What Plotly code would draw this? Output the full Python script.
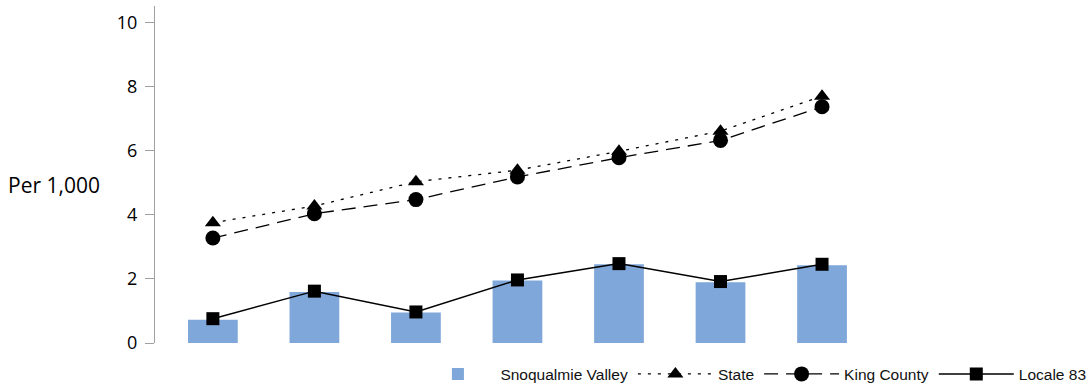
import plotly.graph_objects as go

categories = ["2010", "2011", "2012", "2013", "2014", "2015", "2016"]
snoqualmie_valley = [0.73, 1.59, 0.95, 1.95, 2.46, 1.90, 2.43]
state = [3.76, 4.28, 5.04, 5.40, 5.99, 6.62, 7.71]
king_county = [3.28, 4.04, 4.48, 5.19, 5.79, 6.33, 7.38]
locale_83 = [0.76, 1.62, 0.97, 1.97, 2.48, 1.92, 2.46]
y_ticks = [0, 2, 4, 6, 8, 10]

xs = list(range(len(categories)))

fig = go.Figure()
fig.add_trace(go.Bar(x=xs, y=snoqualmie_valley, name="Snoqualmie Valley",
                     marker=dict(color="#7FA7D9", line=dict(width=0)), width=0.49))
fig.add_trace(go.Scatter(x=xs, y=state, name="State", mode="lines+markers",
                         line=dict(color="black", width=1.3, dash="3px,7px"),
                         marker=dict(symbol="triangle-up", size=14, color="black")))
fig.add_trace(go.Scatter(x=xs, y=king_county, name="King County", mode="lines+markers",
                         line=dict(color="black", width=1.3, dash="14px,8px"),
                         marker=dict(symbol="circle", size=15, color="black")))
fig.add_trace(go.Scatter(x=xs, y=locale_83, name="Locale 83", mode="lines+markers",
                         line=dict(color="black", width=1.5),
                         marker=dict(symbol="square", size=13, color="black")))

fig.update_layout(
    width=1086, height=388,
    margin=dict(l=155, r=200, t=6, b=45, autoexpand=False),
    plot_bgcolor="white", paper_bgcolor="white",
    showlegend=True,
    legend=dict(orientation="h", xref="paper", x=1.281, xanchor="right",
                yref="paper", y=-0.093, yanchor="middle",
                font=dict(family="Liberation Sans, Arial", size=15.5, color="#111111"),
                itemwidth=75, traceorder="normal", bgcolor="rgba(0,0,0,0)"),
    xaxis=dict(range=[-0.57, 6.63], showticklabels=False, showgrid=False, zeroline=False,
               showline=False, ticks=""),
    yaxis=dict(range=[0, 10.53], tickvals=y_ticks, showgrid=False, zeroline=False,
               showline=True, linecolor="#A0A0A0", linewidth=1,
               ticks="outside", ticklen=9, tickcolor="#A0A0A0", ticklabelstandoff=4,
               tickfont=dict(family="Open Sans", size=18, color="black")),
    annotations=[dict(text="Per 1,000", x=-0.204, xanchor="left", y=0.468, yanchor="middle",
                      xref="paper", yref="paper", showarrow=False,
                      font=dict(family="Open Sans", size=21, color="black"))],
)

fig.write_html("out.html", config={"displayModeBar": False},
               post_script="document.body.style.margin='0';")
